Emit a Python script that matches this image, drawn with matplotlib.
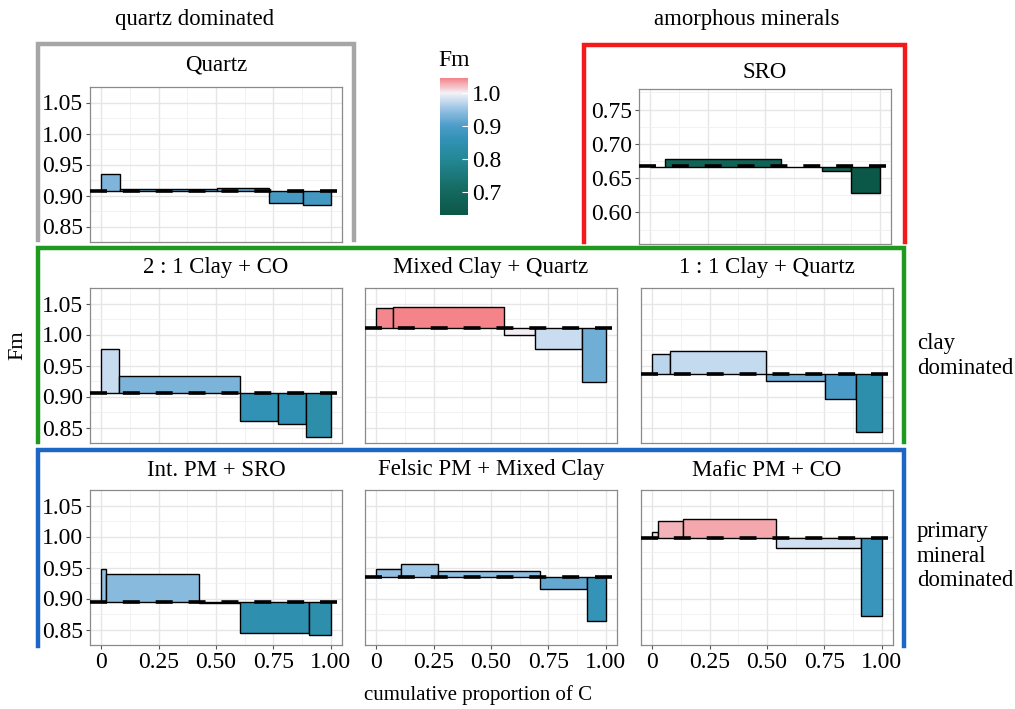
import matplotlib

matplotlib.use("Agg")
import matplotlib.pyplot as plt
from matplotlib.colors import LinearSegmentedColormap, Normalize
from matplotlib.colorbar import ColorbarBase
from matplotlib.lines import Line2D

plt.rcParams["font.family"] = ["Liberation Serif", "DejaVu Serif"]

# Panel data: bin edges along the cumulative C proportion, Fm per bin, mean Fm
quartz_edges = [0, 0.083, 0.505, 0.731, 0.879, 1.0]
quartz_fm = [0.934, 0.910, 0.912, 0.888, 0.885]
quartz_mean = 0.907

sro_edges = [0, 0.065, 0.568, 0.75, 0.875, 1.0]
sro_fm = [0.667, 0.678, 0.666, 0.660, 0.629]
sro_mean = 0.667

clay21_edges = [0, 0.075, 0.605, 0.77, 0.895, 1.0]
clay21_fm = [0.976, 0.933, 0.860, 0.856, 0.834]
clay21_mean = 0.905

mixed_edges = [0, 0.074, 0.555, 0.69, 0.898, 1.0]
mixed_fm = [1.042, 1.045, 1.000, 0.977, 0.924]
mixed_mean = 1.011

clay11_edges = [0, 0.076, 0.497, 0.754, 0.89, 1.0]
clay11_fm = [0.969, 0.974, 0.925, 0.896, 0.843]
clay11_mean = 0.937

intpm_edges = [0, 0.02, 0.425, 0.606, 0.904, 1.0]
intpm_fm = [0.948, 0.940, 0.893, 0.844, 0.841]
intpm_mean = 0.894

felsic_edges = [0, 0.109, 0.27, 0.714, 0.917, 1.0]
felsic_fm = [0.947, 0.955, 0.945, 0.916, 0.864]
felsic_mean = 0.934

mafic_edges = [0, 0.026, 0.135, 0.538, 0.911, 1.0]
mafic_fm = [1.007, 1.025, 1.029, 0.981, 0.872]
mafic_mean = 0.997

x_ticks = [0, 0.25, 0.5, 0.75, 1.0]
x_ticklabels = ["0", "0.25", "0.50", "0.75", "1.00"]
fm_ticks = [0.85, 0.90, 0.95, 1.00, 1.05]
sro_ticks = [0.60, 0.65, 0.70, 0.75]
cbar_ticks = [0.7, 0.8, 0.9, 1.0]

W, H = 1015, 709
fig = plt.figure(figsize=(W / 100, H / 100), dpi=100)

TICK_FS = 17
TITLE_FS = 16.5
LABEL_FS = 16.4

fm_min, fm_max = 0.63, 1.045
stops = [
    (0.63, "#0b5748"),
    (0.70, "#14685e"),
    (0.80, "#248896"),
    (0.86, "#3292b6"),
    (0.90, "#4c9cc8"),
    (0.95, "#96c1e2"),
    (0.975, "#c4daef"),
    (1.00, "#f3f1f6"),
    (1.045, "#f4838a"),
]
cmap = LinearSegmentedColormap.from_list(
    "fm", [((v - fm_min) / (fm_max - fm_min), c) for v, c in stops]
)
norm = Normalize(fm_min, fm_max)


def px_axes(left, top, width, height):
    """Add an axes placed with pixel coordinates measured from the top left."""
    return fig.add_axes([left / W, 1 - (top + height) / H, width / W, height / H])


def panel(left, top, title, edges, fm, mean, ylim, yticks, show_y, show_x, title_gap=21):
    ax = px_axes(left, top, 252, 155)
    lefts = edges[:-1]
    widths = [b - a for a, b in zip(edges[:-1], edges[1:])]
    heights = [v - mean for v in fm]
    ax.bar(
        lefts,
        heights,
        width=widths,
        bottom=mean,
        align="edge",
        color=[cmap(norm(v)) for v in fm],
        edgecolor="black",
        linewidth=1.0,
        zorder=2,
    )
    ax.axhline(mean, color="black", lw=2.6, linestyle=(0, (4.7, 4.4)), zorder=3)

    ax.set_xlim(-0.05, 1.05)
    ax.set_ylim(*ylim)
    ax.set_xticks(x_ticks)
    ax.set_xticks([0.125, 0.375, 0.625, 0.875], minor=True)
    ax.set_yticks(yticks)
    ax.set_yticks([t + 0.025 for t in yticks] + [yticks[0] - 0.025], minor=True)
    ax.grid(True, which="major", color="#e6e6e6", lw=1.0, zorder=0)
    ax.grid(True, which="minor", color="#f0f0f0", lw=0.6, zorder=0)
    ax.set_axisbelow(True)
    for sp in ax.spines.values():
        sp.set_color("#8a8a8a")
        sp.set_linewidth(0.9)
    ax.tick_params(which="both", length=0)
    ax.tick_params(which="major", color="#555555", labelsize=TICK_FS, pad=2)
    ax.tick_params(axis="x", which="major", length=3 if show_x else 0)
    ax.tick_params(axis="y", which="major", length=3 if show_y else 0)

    if show_y:
        ax.set_yticklabels([f"{t:.2f}" for t in yticks])
    else:
        ax.set_yticklabels([])
    if show_x:
        ax.set_xticklabels(x_ticklabels)
    else:
        ax.set_xticklabels([])

    fig.text((left + 126) / W, 1 - (top - title_gap) / H, title,
             ha="center", va="center", fontsize=TITLE_FS)
    return ax


fm_lim = (0.826, 1.054)
sro_lim = (0.554, 0.780)

panel(90, 87, "Quartz", quartz_edges, quartz_fm, quartz_mean, fm_lim, fm_ticks, True, False, 22)
panel(639, 89, "SRO", sro_edges, sro_fm, sro_mean, sro_lim, sro_ticks, True, False, 16)

panel(90, 288, "2 : 1 Clay + CO", clay21_edges, clay21_fm, clay21_mean, fm_lim, fm_ticks, True, False)
panel(365, 288, "Mixed Clay + Quartz", mixed_edges, mixed_fm, mixed_mean, fm_lim, fm_ticks, False, False)
panel(641, 288, "1 : 1 Clay + Quartz", clay11_edges, clay11_fm, clay11_mean, fm_lim, fm_ticks, False, False)

panel(90, 490, "Int. PM + SRO", intpm_edges, intpm_fm, intpm_mean, fm_lim, fm_ticks, True, True, 20)
panel(365, 490, "Felsic PM + Mixed Clay", felsic_edges, felsic_fm, felsic_mean, fm_lim, fm_ticks, False, True, 20)
panel(641, 490, "Mafic PM + CO", mafic_edges, mafic_fm, mafic_mean, fm_lim, fm_ticks, False, True, 20)

# Colour bar
cax = px_axes(440, 78, 28, 137)
cb = ColorbarBase(cax, cmap=cmap, norm=norm, orientation="vertical")
cb.outline.set_visible(False)
cb.set_ticks(cbar_ticks)
cb.set_ticklabels([f"{t:.1f}" for t in cbar_ticks])
cax.tick_params(length=4, color="white", width=0.8, labelsize=TICK_FS, pad=3, direction="in")
fig.text(454 / W, 1 - 61 / H, "Fm", ha="center", va="center", fontsize=TICK_FS)

# Group boxes (open at the bottom)
def open_box(x0, x1, y_top, y_bot, color):
    xs = [x0 / W, x0 / W, x1 / W, x1 / W]
    ys = [1 - y_bot / H, 1 - y_top / H, 1 - y_top / H, 1 - y_bot / H]
    fig.add_artist(Line2D(xs, ys, color=color, lw=3.2, transform=fig.transFigure,
                          solid_joinstyle="miter"))


open_box(38, 354, 44, 240, "#a6a6a6")
open_box(584, 905, 45, 242, "#f21b1b")
open_box(38, 904, 248, 442, "#1f9a1f")
open_box(38, 904, 450, 646, "#1c66c6")

fig.text(195 / W, 1 - 20 / H, "quartz dominated", ha="center", va="center", fontsize=LABEL_FS)
fig.text(747 / W, 1 - 20 / H, "amorphous minerals", ha="center", va="center", fontsize=LABEL_FS)
fig.text(917 / W, 1 - 356 / H, "clay\ndominated", ha="left", va="center",
         fontsize=LABEL_FS, linespacing=1.2)
fig.text(917 / W, 1 - 556 / H, "primary\nmineral\ndominated", ha="left", va="center",
         fontsize=LABEL_FS, linespacing=1.2)

fig.text(18 / W, 1 - 345 / H, "Fm", ha="center", va="center", rotation=90, fontsize=16)
fig.text(478 / W, 1 - 695 / H, "cumulative proportion of C", ha="center", va="center",
         fontsize=15)

fig.savefig("out.png", dpi=100)
